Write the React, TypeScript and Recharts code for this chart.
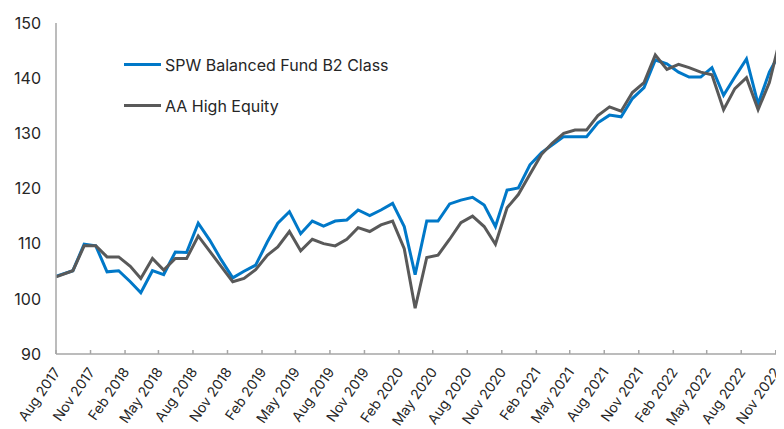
import React from "react";
import { LineChart, Line, XAxis, YAxis } from "recharts";

const dates = [
  "2017-08-01", "2017-09-15", "2017-10-15", "2017-11-15", "2017-12-15",
  "2018-01-15", "2018-02-15", "2018-03-15", "2018-04-15", "2018-05-15", "2018-06-15",
  "2018-07-15", "2018-08-15", "2018-09-15", "2018-10-15", "2018-11-15", "2018-12-15",
  "2019-01-15", "2019-02-15", "2019-03-15", "2019-04-15", "2019-05-15", "2019-06-15",
  "2019-07-15", "2019-08-15", "2019-09-15", "2019-10-15", "2019-11-15", "2019-12-15",
  "2020-01-15", "2020-02-15", "2020-03-15", "2020-04-15", "2020-05-15", "2020-06-15",
  "2020-07-15", "2020-08-15", "2020-09-15", "2020-10-15", "2020-11-15", "2020-12-15",
  "2021-01-15", "2021-02-15", "2021-03-15", "2021-04-15", "2021-05-15", "2021-06-15",
  "2021-07-15", "2021-08-15", "2021-09-15", "2021-10-15", "2021-11-15", "2021-12-15",
  "2022-01-15", "2022-02-15", "2022-03-15", "2022-04-15", "2022-05-15", "2022-06-15",
  "2022-07-15", "2022-08-15", "2022-09-15", "2022-10-15", "2022-11-15",
];

const spwBalanced = [
  104.1, 105.1, 109.9, 109.6, 104.9, 105.1, 103.1, 101.1, 105.1, 104.4,
  108.5, 108.4, 113.7, 110.6, 107.1, 103.8, 105.0, 106.1, 110.3, 113.7,
  115.8, 111.8, 114.1, 113.2, 114.1, 114.3, 116.1, 115.1, 116.1, 117.3,
  113.1, 104.4, 114.1, 114.1, 117.2, 117.9, 118.4, 117.0, 113.1, 119.7,
  120.1, 124.3, 126.5, 127.9, 129.4, 129.4, 129.4, 131.9, 133.3, 133.0,
  136.3, 138.3, 143.3, 142.6, 141.1, 140.2, 140.2, 141.9, 136.9, 140.2,
  143.5, 135.3, 141.1, 145.0,
];

const aaHighEquity = [
  104.0, 105.1, 109.6, 109.6, 107.6, 107.6, 105.9, 103.7, 107.3, 105.2,
  107.3, 107.3, 111.4, 108.6, 105.9, 103.1, 103.7, 105.3, 107.9, 109.4,
  112.2, 108.7, 110.8, 110.0, 109.6, 110.8, 112.9, 112.2, 113.4, 114.1,
  109.1, 98.3, 107.5, 107.9, 110.8, 113.8, 115.0, 113.1, 109.9, 116.5,
  118.9, 122.6, 126.2, 128.2, 130.0, 130.6, 130.6, 133.2, 134.8, 134.0,
  137.4, 139.2, 144.2, 141.6, 142.5, 141.9, 141.1, 140.6, 134.3, 138.1,
  140.1, 134.3, 139.2, 147.8,
];

const tickDates = [
  "2017-08-01", "2017-11-01", "2018-02-01", "2018-05-01", "2018-08-01", "2018-11-01",
  "2019-02-01", "2019-05-01", "2019-08-01", "2019-11-01", "2020-02-01", "2020-05-01",
  "2020-08-01", "2020-11-01", "2021-02-01", "2021-05-01", "2021-08-01", "2021-11-01",
  "2022-02-01", "2022-05-01", "2022-08-01", "2022-11-01",
];
const tickLabels = [
  "Aug 2017", "Nov 2017", "Feb 2018", "May 2018", "Aug 2018", "Nov 2018",
  "Feb 2019", "May 2019", "Aug 2019", "Nov 2019", "Feb 2020", "May 2020",
  "Aug 2020", "Nov 2020", "Feb 2021", "May 2021", "Aug 2021", "Nov 2021",
  "Feb 2022", "May 2022", "Aug 2022", "Nov 2022",
];
const yTicks = [90, 100, 110, 120, 130, 140, 150];
const domainStart = "2017-08-01";
const domainEnd = "2022-11-23";

const seriesNames = ["SPW Balanced Fund B2 Class", "AA High Equity"];
const seriesColors = ["#0078C8", "#595959"];

const toTs = (s: string) => {
  const [y, m, d] = s.split("-").map(Number);
  return Date.UTC(y, m - 1, d);
};

const data = dates.map((d, i) => ({
  t: toTs(d),
  spw: spwBalanced[i],
  aa: aaHighEquity[i],
}));
const tickTs = tickDates.map(toTs);

const FONT = "Inter, 'DejaVu Sans', sans-serif";
const AXIS = "#a6a6a6";
const TEXT = "#262626";

const XTick = (props: any) => {
  const { x, y, payload } = props;
  const idx = tickTs.indexOf(payload.value);
  const label = idx >= 0 ? tickLabels[idx] : "";
  const ax = x + 5;
  const ay = y + 18;
  return (
    <g>
      <line x1={x} y1={y - 4} x2={x} y2={y} stroke={AXIS} strokeWidth={1.5} />
      <text
        x={ax}
        y={ay}
        transform={`rotate(-55, ${ax}, ${ay})`}
        textAnchor="end"
        fontSize={14}
        fill={TEXT}
        fontFamily={FONT}
      >
        {label}
      </text>
    </g>
  );
};

export default function App() {
  return (
    <div style={{ position: "relative", width: 776, height: 421 }}>
      <LineChart
        width={776}
        height={421}
        data={data}
        margin={{ top: 15, right: 0, bottom: 0, left: 0 }}
      >
        <XAxis
          type="number"
          dataKey="t"
          domain={[toTs(domainStart), toTs(domainEnd)]}
          ticks={tickTs}
          interval={0}
          height={75}
          tickSize={0}
          tickMargin={0}
          tickLine={false}
          axisLine={{ stroke: AXIS, strokeWidth: 1.5 }}
          tick={<XTick />}
          allowDataOverflow
        />
        <YAxis
          type="number"
          domain={[90, 150]}
          ticks={yTicks}
          interval={0}
          width={48}
          tickLine={false}
          tickMargin={9}
          axisLine={{ stroke: AXIS, strokeWidth: 1.5 }}
          tick={{ fontSize: 16, fill: TEXT, fontFamily: FONT }}
        />
        <Line
          type="linear"
          dataKey="spw"
          name={seriesNames[0]}
          stroke={seriesColors[0]}
          strokeWidth={3}
          dot={false}
          isAnimationActive={false}
        />
        <Line
          type="linear"
          dataKey="aa"
          name={seriesNames[1]}
          stroke={seriesColors[1]}
          strokeWidth={3}
          dot={false}
          isAnimationActive={false}
        />
      </LineChart>
      <div
        style={{
          position: "absolute",
          left: 116,
          top: 36,
          fontFamily: FONT,
          fontSize: 16,
          color: TEXT,
          whiteSpace: "nowrap",
        }}
      >
        {seriesNames.map((n, i) => (
          <div
            key={n}
            style={{ display: "flex", alignItems: "center", height: 41 }}
          >
            <div
              style={{
                width: 37,
                height: 3,
                background: seriesColors[i],
                marginRight: 4,
              }}
            />
            <span>{n}</span>
          </div>
        ))}
      </div>
    </div>
  );
}
